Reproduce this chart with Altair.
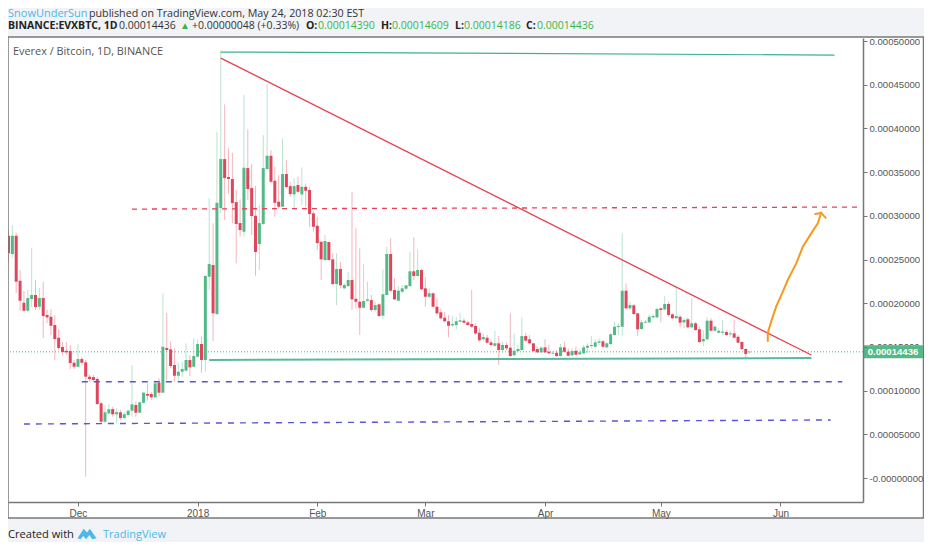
import altair as alt
import pandas as pd

# prices in units of 0.00001 BTC, one candle per day from 2017-11-13
opens = [27.72,25.63,27.72,22.57,20.05,19.14,20.48,20.94,19.60,20.59,
 18.65,18.45,17.50,16.05,14.99,14.56,14.53,13.19,12.73,13.61,
 13.24,11.59,11.55,11.33,8.55,6.44,7.40,7.89,7.29,7.52,
 6.86,7.21,7.70,8.35,7.47,8.61,9.61,9.61,9.23,10.90,
 9.76,14.87,14.72,12.93,11.70,12.16,12.28,13.50,12.73,13.88,
 15.33,13.50,23.03,24.37,18.76,30.89,36.49,34.43,34.21,31.57,
 29.17,28.18,35.46,33.18,30.01,26.77,29.06,35.35,36.87,34.01,
 31.61,31.04,34.78,33.40,32.45,33.52,32.45,33.32,32.95,30.28,
 28.86,27.03,24.94,27.00,25.02,22.19,23.91,21.70,21.96,22.65,
 20.51,20.17,19.48,20.28,20.36,19.22,19.87,18.57,20.94,25.63,
 21.51,20.28,21.31,21.66,21.96,23.65,23.11,23.80,21.70,20.74,
 21.13,19.60,18.96,18.34,17.93,17.47,17.50,17.88,18.00,17.81,
 17.62,17.39,16.62,15.87,16.05,15.52,15.13,15.41,14.64,15.22,
 14.91,14.04,14.53,14.64,16.24,15.87,15.41,14.76,14.38,14.95,
 14.45,14.24,14.33,13.96,14.95,14.45,14.04,14.56,14.15,14.27,
 14.91,15.10,15.02,15.48,15.64,14.95,15.33,16.36,17.27,17.31,
 21.43,19.41,19.76,18.84,17.05,17.77,17.81,18.38,18.38,19.41,
 19.30,19.91,18.73,18.27,18.45,17.81,18.16,17.24,17.70,17.01,
 15.64,15.87,18.00,16.85,16.62,16.62,16.70,16.44,16.55,16.16,
 15.56,14.76,14.390]
highs = [28.37,28.94,28.03,23.80,21.39,21.51,26.31,22.65,21.74,22.46,
 19.22,19.33,18.65,17.05,15.56,15.56,15.22,13.50,15.33,13.84,
 13.50,11.78,11.78,11.59,8.73,8.35,8.47,8.16,7.97,7.78,
 7.58,7.86,12.93,8.73,8.73,9.87,10.83,9.87,11.21,11.41,
 21.13,18.91,15.59,14.84,13.19,13.30,15.41,14.07,15.98,15.87,
 16.16,23.22,32.00,29.14,39.62,48.96,42.75,37.72,37.21,32.95,
 31.88,43.82,39.89,35.92,33.40,31.23,39.24,45.07,37.52,35.61,
 34.66,38.86,36.38,33.90,34.29,34.47,35.54,33.71,33.32,30.54,
 29.89,27.11,27.80,27.03,25.71,25.71,24.74,22.27,23.60,32.72,
 28.57,26.28,24.48,22.46,20.94,20.17,19.99,23.88,26.46,27.42,
 22.85,21.96,22.08,22.08,25.89,27.54,26.16,23.99,22.96,21.70,
 21.20,20.56,19.41,19.03,18.65,18.53,18.45,18.91,18.27,18.00,
 21.51,17.70,17.13,16.55,16.36,15.79,16.85,16.24,15.59,15.48,
 18.84,16.55,15.22,18.38,16.62,16.36,15.41,15.02,15.10,15.90,
 15.22,14.53,14.64,15.33,15.59,14.84,14.84,15.02,14.72,15.22,
 15.41,16.24,15.87,15.98,15.79,15.59,16.62,17.88,17.70,27.99,
 22.27,20.17,19.91,18.91,18.08,18.08,18.65,18.76,19.48,19.53,
 20.82,20.17,18.84,21.82,18.65,18.27,18.38,20.56,17.88,17.31,
 16.93,18.38,18.27,17.50,17.13,18.08,16.93,16.85,18.08,16.36,
 15.64,14.84,14.609]
lows = [24.60,25.17,21.16,19.10,19.02,18.99,19.56,19.22,19.22,16.02,
 17.73,16.36,13.50,14.64,14.07,14.07,12.47,12.47,12.70,12.93,
 0.15,11.02,10.98,8.35,6.26,6.26,7.21,7.01,6.26,6.64,
 6.72,7.01,7.01,7.01,7.40,8.47,8.84,8.92,9.12,9.30,
 9.76,11.21,12.55,11.02,11.02,11.59,12.16,11.67,12.66,13.81,
 12.05,12.13,21.51,15.67,18.65,30.28,29.52,32.57,29.14,24.56,
 27.61,27.61,31.80,27.80,23.14,23.80,28.94,35.24,33.71,29.89,
 30.85,31.00,33.14,32.18,30.85,32.57,31.23,31.04,28.75,28.18,
 26.08,22.65,24.90,24.90,22.08,19.79,21.70,21.59,21.88,19.22,
 19.41,16.36,19.41,20.17,19.02,19.02,18.45,18.16,20.94,21.31,
 20.36,20.28,21.13,21.51,21.88,22.65,23.03,21.51,19.60,20.56,
 19.53,18.65,18.16,17.77,16.10,17.31,17.01,17.81,17.70,17.39,
 17.19,16.36,15.59,15.71,15.41,15.10,15.02,12.93,14.56,14.64,
 13.88,13.96,14.45,14.56,15.59,15.33,14.45,14.27,14.27,14.27,
 14.19,14.19,13.88,13.88,14.33,13.96,13.96,14.04,14.07,14.15,
 14.27,14.84,14.91,15.22,14.91,14.84,15.22,16.28,16.36,16.28,
 19.30,19.22,18.65,16.24,16.93,17.70,17.70,18.16,18.27,17.81,
 19.14,18.45,18.16,18.27,17.24,17.13,17.13,17.13,16.85,15.41,
 15.10,15.71,16.74,16.74,16.55,16.36,16.24,16.16,15.98,15.41,
 14.64,13.69,14.186]
closes = [25.71,27.72,22.46,20.28,19.14,20.59,20.94,19.56,20.59,18.53,
 18.38,17.42,15.90,14.87,14.41,14.38,13.16,12.73,13.61,13.19,
 11.59,11.33,11.21,8.47,6.44,7.52,7.86,7.29,7.52,6.86,
 7.29,7.70,8.43,7.47,8.66,9.76,9.42,9.23,10.83,9.76,
 15.02,14.64,12.81,11.70,12.16,12.47,13.50,12.66,13.96,15.33,
 13.50,23.11,24.48,18.84,31.49,36.49,34.32,34.21,31.46,29.06,
 28.37,35.50,33.06,29.97,25.85,29.17,35.46,36.87,33.90,31.49,
 31.04,34.78,33.29,32.49,33.40,32.75,33.32,32.87,30.20,28.75,
 26.88,25.02,27.11,24.94,22.19,23.91,22.05,22.08,22.65,20.44,
 20.17,19.48,20.25,20.44,19.22,19.79,18.53,21.02,25.63,21.43,
 20.44,21.43,21.70,22.05,23.65,23.11,23.80,21.59,20.74,21.13,
 19.60,18.84,18.27,17.93,17.42,17.62,17.93,18.04,17.77,17.50,
 17.31,16.55,15.75,16.13,15.48,15.22,15.41,14.64,15.22,14.84,
 13.96,14.56,14.76,16.24,15.71,15.41,14.53,14.38,14.91,14.38,
 14.27,14.33,13.96,14.95,14.45,13.99,14.53,14.11,14.38,14.95,
 15.13,15.22,15.52,15.64,15.02,15.41,16.44,17.31,17.39,21.43,
 19.41,19.79,18.76,17.01,17.81,17.88,18.45,18.53,19.33,19.22,
 19.91,18.65,18.27,18.53,17.77,18.08,17.24,17.70,16.93,15.56,
 15.90,18.00,16.85,17.31,16.85,16.74,16.36,16.55,16.05,15.48,
 14.76,14.19,14.436]

start_day = "2017-11-13"
last_price = 14.436
price_ticks = [0, 5, 10, 15, 20, 25, 30, 35, 40, 45, 50]
hidden_tick = 15

top_line_dates = ["2018-01-07", "2018-06-15"]
top_line_prices = [48.74, 48.39]
trend_dates = ["2018-01-07", "2018-06-09"]
trend_prices = [48.05, 14.07]
resist_dates = ["2017-12-15", "2018-06-21"]
resist_prices = [30.77, 31.0]
support_dates = ["2018-01-04", "2018-06-09"]
support_prices = [13.5, 13.73]
blue1_dates = ["2017-12-02", "2018-06-17"]
blue1_prices = [11.02, 11.02]
blue2_dates = ["2017-11-17", "2018-06-14"]
blue2_prices = [6.18, 6.64]
arrow_dates = ["2018-05-28T17:00", "2018-05-28T17:00", "2018-05-29T14:00", "2018-05-30T21:00", "2018-06-01T14:00",
               "2018-06-02T21:00", "2018-06-05T02:00", "2018-06-06T19:00", "2018-06-08T23:00",
               "2018-06-10T16:00", "2018-06-11T19:00", "2018-06-11T13:00"]
arrow_prices = [15.59, 16.6, 17.9, 19.6, 21.30, 22.65, 24.56, 26.46, 27.99, 29.14, 30.35, 30.35]
head_dates = ["2018-06-09T19:00", "2018-06-11T13:00", "2018-06-12T20:00"]
head_prices = [30.17, 30.35, 29.71]

UNIT = 1e-5
BG = "#f1f3f6"
GREEN = "#53b987"
RED = "#e0455c"
TXT = "#4a4a4a"
AXF = "Liberation Sans"
UIF = "Open Sans"

days = pd.date_range(start_day, periods=len(opens), freq="D").strftime("%Y-%m-%dT00:00:00Z")
df = pd.DataFrame({"date": days,
                   "o": [v * UNIT for v in opens], "h": [v * UNIT for v in highs],
                   "l": [v * UNIT for v in lows], "c": [v * UNIT for v in closes]})
df["dir"] = ["up" if c >= o else "down" for o, c in zip(opens, closes)]

def dt(y, m, d, h=0):
    return alt.DateTime(year=y, month=m, date=d, hours=h, utc=True)

month_ticks = [dt(2017, 12, 1), dt(2018, 1, 1), dt(2018, 2, 1), dt(2018, 3, 1),
               dt(2018, 4, 1), dt(2018, 5, 1), dt(2018, 6, 1)]

x_axis = alt.Axis(values=month_ticks, title=None, grid=False, domainColor="#777777", domainWidth=1.5,
                  tickColor="#777777", tickSize=4, labelColor="#555555", labelFont=AXF, labelFontSize=10,
                  labelPadding=2, zindex=1,
                  labelExpr="utcmonth(datum.value)==0 ? '2018' : utcFormat(datum.value,'%b')")
y_axis = alt.Axis(orient="right", values=[v * UNIT for v in price_ticks], title=None, grid=False,
                  domainColor="#777777", domainWidth=1.5, tickColor="#777777", tickSize=4,
                  labelColor="#555555", labelFont=AXF, labelFontSize=9.6, labelPadding=2, zindex=1,
                  labelExpr=f"datum.value==0 ? '-0.00000000' : abs(datum.value-{hidden_tick * UNIT})<1e-9 ? '' : format(datum.value,'.8f')")
x_scale = alt.Scale(type="utc", domain=[dt(2017, 11, 12, 21), dt(2018, 6, 22, 9)], padding=0)
y_scale = alt.Scale(domain=[-2.746e-5, 5.0345e-4], nice=False, zero=False, padding=0)

def X(field="date"):
    return alt.X(f"{field}:T", scale=x_scale, axis=x_axis)

def Y(field):
    return alt.Y(f"{field}:Q", scale=y_scale, axis=y_axis)

color = alt.Color("dir:N", scale=alt.Scale(domain=["up", "down"], range=[GREEN, RED]), legend=None)
EMPTY = alt.Data(values=[{}])

def line(dates, prices, stroke, width, dash=None):
    kw = {"strokeDash": dash} if dash else {}
    d = pd.DataFrame({"date": [s + "Z" if "T" in s else s + "T00:00:00Z" for s in dates],
                      "p": [v * UNIT for v in prices]})
    return alt.Chart(d).mark_line(color=stroke, strokeWidth=width, **kw).encode(x=X(), y=Y("p"))

def label(text, x, y, color=TXT, size=12, weight="normal", font=UIF, align="left"):
    return alt.Chart(pd.DataFrame({"t": [text]})).mark_text(
        align=align, baseline="middle", color=color, fontSize=size, fontWeight=weight, font=font
    ).encode(x=alt.value(x), y=alt.value(y), text="t:N")

def hrule(x1, x2, y, stroke="#777777", width=1.5):
    return alt.Chart(EMPTY).mark_rule(color=stroke, strokeWidth=width).encode(
        x=alt.value(x1), x2=alt.value(x2), y=alt.value(y))

def vrule(x, y1, y2, stroke="#777777", width=1.5):
    return alt.Chart(EMPTY).mark_rule(color=stroke, strokeWidth=width).encode(
        x=alt.value(x), y=alt.value(y1), y2=alt.value(y2))

panel = alt.Chart(EMPTY).mark_rect(color="white").encode(
    x=alt.value(0), x2=alt.value(916), y=alt.value(-1), y2=alt.value(480))

wicks = alt.Chart(df).mark_rule(strokeWidth=1, opacity=0.4).encode(x=X(), y=Y("h"), y2="l:Q", color=color)
bodies = alt.Chart(df).mark_bar(size=3).encode(x=X(), y=Y("o"), y2="c:Q", color=color)

last_df = pd.DataFrame({"p": [last_price * UNIT], "t": ["0.00014436"]})
last_line = alt.Chart(last_df).mark_rule(color=GREEN, strokeWidth=1, strokeDash=[1, 2]).encode(y=Y("p"))
last_box = alt.Chart(last_df).mark_rect(color=GREEN, height=13).encode(
    x=alt.value(855), x2=alt.value(915), y=Y("p"))
last_text = alt.Chart(last_df).mark_text(color="white", fontSize=9.6, fontWeight="bold", font=AXF).encode(
    x=alt.value(885), y=Y("p"), text="t:N")
hidden_df = pd.DataFrame({"p": [hidden_tick * UNIT], "t": [f"{hidden_tick * UNIT:.8f}"]})
hidden_label = alt.Chart(hidden_df).mark_text(
    color="#555555", fontSize=9.6, font=AXF, align="left", baseline="middle"
).encode(x=alt.value(861), y=Y("p"), text="t:N")

logo = alt.Chart(EMPTY).mark_point(
    filled=True, color="#4db8e8", opacity=1, size=360,
    shape="M-1,0.45 L-0.35,-0.55 L0,-0.15 L0.3,-0.55 L1,0.45 L0.55,0.55 L0.25,0.1 L-0.1,0.55 L-0.4,0.2 L-0.7,0.55 Z"
).encode(x=alt.value(79), y=alt.value(496))

R2 = 10.5
layers = [
    panel,
    last_line,
    wicks, bodies,
    line(top_line_dates, top_line_prices, "#3fb094", 1.2),
    line(trend_dates, trend_prices, "#e8404f", 1.3),
    line(resist_dates, resist_prices, "#e8405a", 1.3, [5, 5]),
    line(support_dates, support_prices, "#57bb9a", 2),
    line(blue1_dates, blue1_prices, "#5a55d0", 1.4, [6, 6]),
    line(blue2_dates, blue2_prices, "#5a55d0", 1.4, [6, 6]),
    line(arrow_dates, arrow_prices, "#f59a1d", 2),
    line(head_dates, head_prices, "#f59a1d", 2),
    hrule(0, 916, -1),
    hrule(0, 916, 480),
    vrule(0, -1, 480),
    vrule(915.5, -1, 480),
    hidden_label,
    last_box, last_text,
    label("Everex / Bitcoin, 1D, BINANCE", 5, 14, "#555555", 10.9),
    label("SnowUnderSun", 0, -24.5, "#4db8e8", 11),
    label("published on TradingView.com, May 24, 2018 02:30 EST", 81, -24.5, "#333333", 10.7),
    label("BINANCE:EVXBTC, 1D", 0, -12, "#222222", R2, "bold"),
    label("0.00014436", 111, -12, "#333333", R2),
    label("▲", 172, -12, "#39b54a", 10),
    label("+0.00000048 (+0.33%)", 184, -12, "#333333", R2),
    label("O:", 298, -12, "#222222", R2, "bold"),
    label("0.00014390", 310, -12, "#39b54a", R2),
    label("H:", 373, -12, "#222222", R2, "bold"),
    label("0.00014609", 384, -12, "#39b54a", R2),
    label("L:", 447, -12, "#222222", R2, "bold"),
    label("0.00014186", 456, -12, "#39b54a", R2),
    label("C:", 518, -12, "#222222", R2, "bold"),
    label("0.00014436", 529, -12, "#39b54a", R2),
    label("Created with", 0, 497, "#222222", 11.1),
    logo,
    label("TradingView", 95, 497, "#4db8e8", 11),
]

chart = alt.layer(*layers).properties(
    width=855, height=464, background=BG,
    padding={"left": 0, "top": 30, "right": 61, "bottom": 40},
    autosize=alt.AutoSizeParams(type="none"),
).configure_view(stroke=None)

chart.save("out.html", embed_options={"renderer": "svg", "actions": False})
